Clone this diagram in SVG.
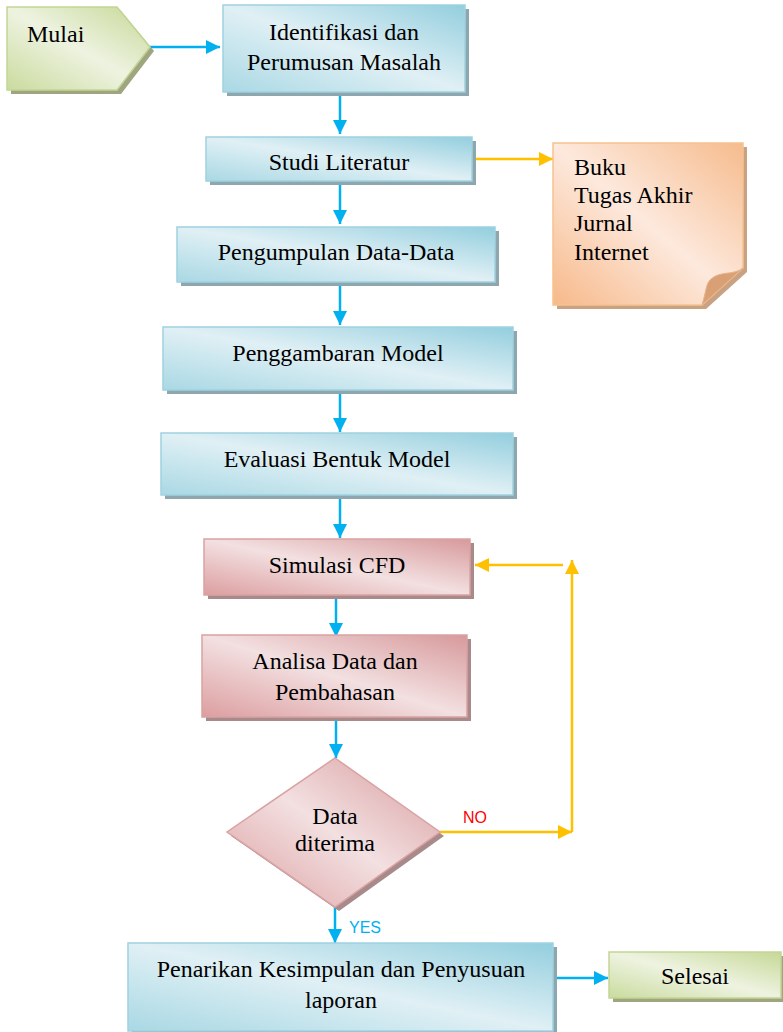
<svg xmlns="http://www.w3.org/2000/svg" width="783" height="1032" viewBox="0 0 783 1032">
<defs>
<linearGradient id="gBlue" x1="0" y1="1" x2="1" y2="0">
<stop offset="0" stop-color="#a9d8e4"/><stop offset="0.5" stop-color="#e0f0f5"/><stop offset="1" stop-color="#93cede"/>
</linearGradient>
<linearGradient id="gRed" x1="0" y1="1" x2="1" y2="0">
<stop offset="0" stop-color="#dc9ea0"/><stop offset="0.5" stop-color="#f3e0e1"/><stop offset="1" stop-color="#d7999b"/>
</linearGradient>
<linearGradient id="gGreen" x1="0" y1="1" x2="1" y2="0">
<stop offset="0" stop-color="#cadb9e"/><stop offset="0.5" stop-color="#eef3e1"/><stop offset="1" stop-color="#c6d896"/>
</linearGradient>
<linearGradient id="gOrange" x1="0" y1="1" x2="1" y2="0">
<stop offset="0" stop-color="#f7b98a"/><stop offset="0.5" stop-color="#fde9dd"/><stop offset="1" stop-color="#f6bb8d"/>
</linearGradient>
<marker id="aBlue" markerWidth="16" markerHeight="16" refX="14" refY="7" orient="auto" markerUnits="userSpaceOnUse">
<path d="M0,0 L14,7 L0,14 Z" fill="#00b0f0"/>
</marker>
<marker id="aOrange" markerWidth="16" markerHeight="16" refX="14" refY="7" orient="auto" markerUnits="userSpaceOnUse">
<path d="M0,0 L14,7 L0,14 Z" fill="#ffc000"/>
</marker>
<style>
.t{font-family:"Liberation Serif","Times New Roman",serif;font-size:24px;fill:#000;text-anchor:middle}
.tl{font-family:"Liberation Serif","Times New Roman",serif;font-size:24px;fill:#000}
.lab{font-family:"Liberation Sans",Arial,sans-serif;font-size:16px}
.blue{fill:url(#gBlue);stroke:#9fd2df;stroke-width:1.5}
.red{fill:url(#gRed);stroke:#d9a2a3;stroke-width:1.5}
.green{fill:url(#gGreen);stroke:#c3d595;stroke-width:1.5}
.orange{fill:url(#gOrange);stroke:#f6c290;stroke-width:1.5}
.shB{fill:#8ea6ae}
.shR{fill:#a88a8b}
.shG{fill:#9ea57f}
.shO{fill:#c9a284}
.cb{stroke:#00b0f0;stroke-width:2.5;fill:none;marker-end:url(#aBlue)}
.coa{stroke:#ffc000;stroke-width:2.5;fill:none;marker-end:url(#aOrange)}
</style>
</defs>

<g id="connectors">
<line class="cb" x1="150" y1="47" x2="220" y2="47"/>
<line class="cb" x1="340" y1="92" x2="340" y2="134"/>
<line class="coa" x1="473" y1="159" x2="553" y2="159"/>
<line class="cb" x1="340" y1="181" x2="340" y2="224"/>
<line class="cb" x1="340" y1="282" x2="340" y2="325"/>
<line class="cb" x1="340" y1="390" x2="340" y2="432"/>
<line class="cb" x1="340" y1="495" x2="340" y2="538"/>
<line class="cb" x1="336" y1="595" x2="336" y2="637"/>
<line class="cb" x1="336" y1="717" x2="336" y2="758"/>
<line class="coa" x1="440" y1="832" x2="572" y2="832"/>
<line class="coa" x1="572" y1="832" x2="572" y2="560"/>
<line class="coa" x1="563" y1="565" x2="475" y2="565"/>
<line class="cb" x1="335" y1="907" x2="335" y2="943"/>
<line class="cb" x1="553" y1="978" x2="608" y2="978"/>
<text class="lab" x="463" y="823" fill="#ff0000">NO</text>
<text class="lab" x="349" y="933" fill="#00b0f0">YES</text>
</g>

<g id="mulai">
<path class="shG" d="M11,11 L121,11 L154,51 L121,94 L11,94 Z"/>
<path class="green" d="M7,7 L117,7 L150,47 L117,90 L7,90 Z"/>
<text class="tl" x="27" y="42">Mulai</text>
</g>

<g id="identifikasi">
<rect class="shB" x="227" y="9" width="242" height="87"/>
<rect class="blue" x="223" y="5" width="242" height="87"/>
<text class="t" x="344" y="40">Identifikasi dan</text>
<text class="t" x="344" y="70">Perumusan Masalah</text>
</g>

<g id="studi">
<rect class="shB" x="210" y="141" width="266" height="44"/>
<rect class="blue" x="206" y="137" width="266" height="44"/>
<text class="t" x="339" y="170">Studi Literatur</text>
</g>

<g id="sumber">
<path class="shO" d="M557,147 L747,147 L747,272 L706,309 L557,309 Z"/>
<path class="orange" d="M553,143 L743,143 L743,268 L702,305 L553,305 Z"/>
<path d="M702,305 C706,292 706,284 710,280 C720,270 733,276 743,268 Z" fill="#d9a076" stroke="#e8b386" stroke-width="1"/>
<text class="tl" x="574" y="175">Buku</text>
<text class="tl" x="574" y="203">Tugas Akhir</text>
<text class="tl" x="574" y="231">Jurnal</text>
<text class="tl" x="574" y="260">Internet</text>
</g>

<g id="pengumpulan">
<rect class="shB" x="181" y="231" width="318" height="55"/>
<rect class="blue" x="177" y="227" width="318" height="55"/>
<text class="t" x="336" y="260">Pengumpulan Data-Data</text>
</g>

<g id="penggambaran">
<rect class="shB" x="167" y="331" width="350" height="63"/>
<rect class="blue" x="163" y="327" width="350" height="63"/>
<text class="t" x="338" y="361">Penggambaran Model</text>
</g>

<g id="evaluasi">
<rect class="shB" x="165" y="437" width="352" height="62"/>
<rect class="blue" x="161" y="433" width="352" height="62"/>
<text class="t" x="337" y="467">Evaluasi Bentuk Model</text>
</g>

<g id="simulasi">
<rect class="shR" x="208" y="543" width="266" height="56"/>
<rect class="red" x="204" y="539" width="266" height="56"/>
<text class="t" x="337" y="573">Simulasi CFD</text>
</g>

<g id="analisa">
<rect class="shR" x="206" y="639" width="265" height="82"/>
<rect class="red" x="202" y="635" width="265" height="82"/>
<text class="t" x="335" y="669">Analisa Data dan</text>
<text class="t" x="335" y="700">Pembahasan</text>
</g>

<g id="keputusan">
<path class="shR" d="M339,762 L444,836 L339,911 L231,836 Z"/>
<path class="red" d="M335,758 L440,832 L335,907 L227,832 Z"/>
<text class="t" x="335" y="824">Data</text>
<text class="t" x="335" y="851">diterima</text>
</g>

<g id="penarikan">
<rect class="shB" x="132" y="947" width="425" height="89"/>
<rect class="blue" x="128" y="943" width="425" height="88"/>
<text class="t" x="341" y="977">Penarikan Kesimpulan dan Penyusuan</text>
<text class="t" x="341" y="1008">laporan</text>
</g>

<g id="selesai">
<rect class="shG" x="613" y="956" width="172" height="46"/>
<rect class="green" x="609" y="952" width="172" height="46"/>
<text class="t" x="695" y="984">Selesai</text>
</g>
</svg>
